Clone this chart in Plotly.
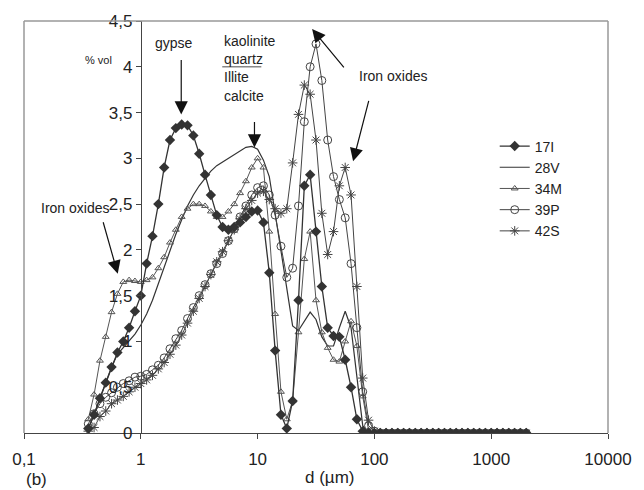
import plotly.graph_objects as go

# particle size grid (µm)
d = [0.355, 0.398, 0.447, 0.501, 0.562, 0.631, 0.708, 0.794, 0.891, 1.0,
     1.122, 1.259, 1.413, 1.585, 1.778, 1.995, 2.239, 2.512, 2.818, 3.162,
     3.548, 3.981, 4.467, 5.012, 5.623, 6.310, 7.079, 7.943, 8.913, 10.0,
     11.22, 12.59, 14.13, 15.85, 17.78, 19.95, 22.39, 25.12, 28.18, 31.62,
     35.48, 39.81, 44.67, 50.12, 56.23, 63.10, 70.79, 79.43, 89.13, 100.0,
     112.2, 125.9, 141.3, 158.5, 177.8, 199.5, 223.9, 251.2, 281.8, 316.2,
     354.8, 398.1, 446.7, 501.2, 562.3, 631.0, 707.9, 794.3, 891.3, 1000.0,
     1122.0, 1259.0, 1413.0, 1585.0, 1778.0, 1995.0]

s17I = [0.05, 0.2, 0.38, 0.55, 0.72, 0.88, 1.0, 1.15, 1.33, 1.5,
        1.85, 2.15, 2.5, 2.9, 3.2, 3.33, 3.37, 3.36, 3.25, 3.05,
        2.82, 2.6, 2.38, 2.25, 2.22, 2.25, 2.3, 2.36, 2.42, 2.43,
        2.3, 1.75, 0.9, 0.2, 0.05, 0.35, 1.45, 2.7, 2.82, 2.2,
        1.6, 1.15, 1.06, 1.05, 0.8, 0.5, 0.15, 0.02, 0, 0,
        0, 0, 0, 0, 0, 0, 0, 0, 0, 0,
        0, 0, 0, 0, 0, 0, 0, 0, 0, 0,
        0, 0, 0, 0, 0, 0]

s28V = [0.05, 0.2, 0.38, 0.55, 0.72, 0.86, 0.93, 1.0, 1.08, 1.18,
        1.3, 1.45, 1.63, 1.83, 2.0, 2.17, 2.33, 2.48, 2.6, 2.7,
        2.78, 2.86, 2.92, 2.96, 3.0, 3.04, 3.08, 3.12, 3.13, 3.1,
        2.98, 2.8, 2.4, 1.98, 1.55, 1.17, 1.12, 1.22, 1.32, 1.24,
        1.05, 0.95, 0.95, 1.15, 1.33, 1.15, 0.6, 0.08, 0, 0,
        0, 0, 0, 0, 0, 0, 0, 0, 0, 0,
        0, 0, 0, 0, 0, 0, 0, 0, 0, 0,
        0, 0, 0, 0, 0, 0]

s34M = [0.15, 0.42, 0.79, 1.05, 1.32, 1.52, 1.65, 1.67, 1.66, 1.65,
        1.67, 1.7, 1.8, 1.92, 2.08, 2.22, 2.36, 2.45, 2.5, 2.5,
        2.48, 2.42, 2.36, 2.36, 2.42, 2.5, 2.62, 2.75, 2.9, 3.0,
        2.9, 2.2, 1.3, 0.45, 0.15, 0.35, 1.1, 1.9, 2.2, 1.45,
        1.1, 0.93, 0.8, 0.78, 1.0, 1.22, 0.95, 0.4, 0.03, 0,
        0, 0, 0, 0, 0, 0, 0, 0, 0, 0,
        0, 0, 0, 0, 0, 0, 0, 0, 0, 0,
        0, 0, 0, 0, 0, 0]

s39P = [0.1, 0.21, 0.32, 0.39, 0.44, 0.5, 0.54, 0.57, 0.61, 0.62,
        0.64, 0.69, 0.74, 0.82, 0.92, 1.03, 1.12, 1.25, 1.37, 1.5,
        1.62, 1.74, 1.85, 1.96, 2.1, 2.23, 2.36, 2.48, 2.6, 2.68,
        2.7, 2.6, 2.38, 2.04, 1.7, 1.8, 2.48, 3.4, 4.0, 4.25,
        3.85, 3.2, 2.8, 2.55, 2.35, 1.85, 1.15, 0.45, 0.08, 0.02,
        0, 0, 0, 0, 0, 0, 0, 0, 0, 0,
        0, 0, 0, 0, 0, 0, 0, 0, 0, 0,
        0, 0, 0, 0, 0, 0]

s42S = [0.02, 0.06, 0.18, 0.24, 0.32, 0.36, 0.4, 0.45, 0.5, 0.54,
        0.58, 0.63, 0.7, 0.77, 0.86, 0.96, 1.07, 1.2, 1.33, 1.47,
        1.6, 1.73, 1.87, 1.98, 2.1, 2.22, 2.34, 2.45, 2.54, 2.62,
        2.64, 2.55, 2.45, 2.4, 2.45, 2.95, 3.48, 3.8, 3.7, 3.2,
        2.4, 1.95, 2.2, 2.7, 2.9, 2.6, 1.6, 0.6, 0.14, 0.02,
        0, 0, 0, 0, 0, 0, 0, 0, 0, 0,
        0, 0, 0, 0, 0, 0, 0, 0, 0, 0,
        0, 0, 0, 0, 0, 0]

x_tickvals = [0.1, 1, 10, 100, 1000, 10000]
x_ticktext = ["0,1", "1", "10", "100", "1000", "10000"]
y_tickvals = [0, 0.5, 1, 1.5, 2, 2.5, 3, 3.5, 4, 4.5]
y_ticktext = ["0", "0,5", "1", "1,5", "2", "2,5", "3", "3,5", "4", "4,5"]

W, H = 644, 490
ML, MR, MT, MB = 17, 29, 19, 57
PW, PH = W - ML - MR, H - MT - MB


def px(x):
    return (x - ML) / PW


def py(y):
    return (H - MB - y) / PH


FONT = "Liberation Sans, Arial, sans-serif"

fig = go.Figure()
fig.add_trace(go.Scatter(x=d, y=s28V, name="28V", mode="lines",
                         line=dict(color="#333", width=1.2)))
fig.add_trace(go.Scatter(x=d, y=s34M, name="34M", mode="lines+markers",
                         line=dict(color="#555", width=1),
                         marker=dict(symbol="triangle-up-open", size=6, color="#555",
                                     line=dict(width=1))))
fig.add_trace(go.Scatter(x=d, y=s39P, name="39P", mode="lines+markers",
                         line=dict(color="#444", width=1),
                         marker=dict(symbol="circle-open", size=8, color="#444",
                                     line=dict(width=1))))
fig.add_trace(go.Scatter(x=d, y=s42S, name="42S", mode="lines+markers",
                         line=dict(color="#444", width=1),
                         marker=dict(symbol="asterisk-open", size=8, color="#444",
                                     line=dict(width=1))))
fig.add_trace(go.Scatter(x=d, y=s17I, name="17I", mode="lines+markers",
                         line=dict(color="#333", width=1.3),
                         marker=dict(symbol="diamond", size=8, color="#333")))

fig.update_layout(
    width=W, height=H,
    margin=dict(l=ML, r=MR, t=MT, b=MB, pad=0),
    paper_bgcolor="white", plot_bgcolor="white",
    font=dict(family=FONT, color="#222", size=15),
    showlegend=True,
    legend=dict(x=px(499), y=py(129), xanchor="left", yanchor="top",
                bgcolor="rgba(0,0,0,0)", font=dict(size=14),
                traceorder="normal", tracegroupgap=0,
                itemwidth=30),
    xaxis=dict(type="log", range=[-1, 4], showgrid=False, zeroline=False,
               showline=True, linecolor="#444", linewidth=1,
               ticks="outside", ticklen=5, tickcolor="#444",
               tickvals=x_tickvals, ticktext=x_ticktext,
               tickfont=dict(size=17), ticklabelstandoff=6),
    yaxis=dict(range=[0, 4.5], anchor="free", position=0.2,
               showgrid=False, zeroline=False,
               showline=True, linecolor="#444", linewidth=1,
               ticks="outside", ticklen=5, tickcolor="#444",
               tickvals=y_tickvals, ticktext=y_ticktext,
               tickfont=dict(size=17)),
)

# legend order to match reference
order = ["17I", "28V", "34M", "39P", "42S"]
for tr in fig.data:
    tr.legendrank = order.index(tr.name)

# frame (top, left, right)
for (x0, y0, x1, y1) in [(0, 1, 1, 1), (0, 0, 0, 1), (1, 0, 1, 1)]:
    fig.add_shape(type="line", xref="paper", yref="paper",
                  x0=x0, y0=y0, x1=x1, y1=y1,
                  line=dict(color="#999", width=1.5))

# underline for "quartz"
fig.add_shape(type="line", xref="paper", yref="paper",
              x0=px(220), x1=px(260), y0=py(65), y1=py(65),
              line=dict(color="#888", width=1.5))

ann = []


def text(x, y, s, size=14, xanchor="center", yanchor="middle", align="center"):
    ann.append(dict(x=px(x), y=py(y), xref="paper", yref="paper", text=s,
                    showarrow=False, xanchor=xanchor, yanchor=yanchor, align=align,
                    font=dict(size=size, family=FONT, color="#222")))


def arrow(tx, ty, sx, sy):
    ann.append(dict(x=px(tx), y=py(ty), xref="paper", yref="paper", text="",
                    showarrow=True, ax=sx - tx, ay=sy - ty,
                    arrowhead=2, arrowsize=2.2, arrowwidth=1.2, arrowcolor="#111"))


text(93, 58, "% vol", size=11)
text(171, 41, "gypse", size=14)
text(220, 67, "kaolinite<br>quartz<br>Illite<br>calcite", size=14,
     xanchor="left", align="left")
text(395, 74, "Iron oxides", size=14)
text(69, 207, "Iron oxides", size=14)
text(330, 478, "d (µm)", size=17)
text(30, 480, "(b)", size=17)

arrow(178, 113, 178, 57)
arrow(253, 146, 253, 119)
arrow(312, 27, 345, 67)
arrow(354, 160, 370, 98)
arrow(113, 273, 98, 220)

fig.update_layout(annotations=ann)

fig.write_html("out.html")
